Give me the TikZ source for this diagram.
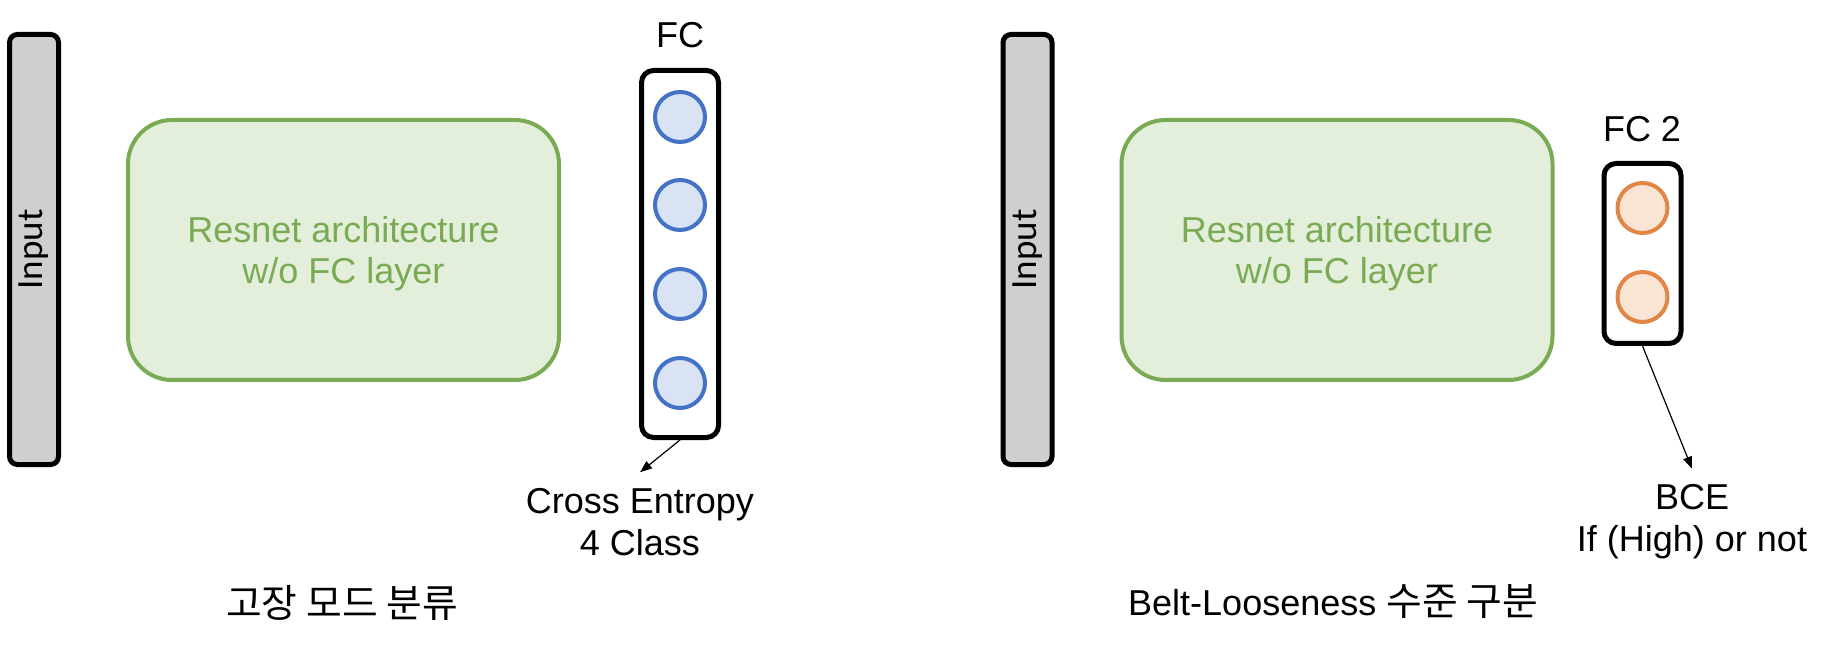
\documentclass[tikz,border=0pt]{standalone}
\usepackage{fontspec}
\setmainfont{Liberation Sans}
\newfontfamily\krfont{Noto Sans CJK KR}
\newfontfamily\inputfont{Carlito}
\usepackage{tikz}
\usetikzlibrary{arrows.meta}
\definecolor{inputgray}{RGB}{208,206,206}
\definecolor{resgreen}{RGB}{122,171,84}
\definecolor{resfill}{RGB}{227,239,218}
\definecolor{fcblue}{RGB}{68,114,196}
\definecolor{fcbluefill}{RGB}{218,227,243}
\definecolor{fcorange}{RGB}{226,134,72}
\definecolor{fcorangefill}{RGB}{250,228,212}

\begin{document}
\begin{tikzpicture}[x=0.5pt, y=-0.5pt,
    inbar/.style={draw, line width=2.5pt, fill=inputgray, rounded corners=4pt,
        minimum width=215pt, minimum height=24.5pt, inner sep=0pt, rotate=90,
        font=\inputfont\fontsize{18.5}{22}\selectfont},
    resbox/.style={draw=resgreen, fill=resfill, line width=2pt, rounded corners=22pt,
        minimum width=215.5pt, minimum height=130pt, align=center, text=resgreen,
        text depth=0pt, font=\fontsize{18}{20.5}\selectfont},
    fcbox/.style={draw, line width=2.5pt, rounded corners=6pt, minimum width=38.5pt},
    bluenode/.style={circle, draw=fcblue, fill=fcbluefill, line width=2pt,
        minimum size=25pt, inner sep=0pt},
    orangenode/.style={circle, draw=fcorange, fill=fcorangefill, line width=2pt,
        minimum size=25pt, inner sep=0pt},
    txt/.style={inner sep=0pt, font=\fontsize{18}{21}\selectfont},
    capnode/.style={txt, align=center, outer ysep=8pt},
    conn/.style={-{Triangle[length=6pt,width=4.5pt]}, line width=0.6pt}
]
    \useasboundingbox (0,0) rectangle (1830,646);

    % Left: fault mode classification
    \node[inbar] (inA) at (34,249.5) {Input};
    \node[resbox] (resA) at (343.5,250) {Resnet architecture\\w/o FC layer};
    \node[fcbox, minimum height=183.5pt] (fcA) at (680,254) {};
    \node[txt] (fcAlabel) at (680,35) {FC};
    \node[bluenode] (fcA1) at (680,117) {};
    \node[bluenode] (fcA2) at (680,205) {};
    \node[bluenode] (fcA3) at (680,294) {};
    \node[bluenode] (fcA4) at (680,383) {};
    \node[capnode] (ce) at (640,522) {Cross Entropy\\4 Class};
    \draw[conn] (fcA.south) -- (ce.north);
    \node[txt, font=\krfont\fontsize{19.4}{21}\selectfont] (capA) at (342,603) {고장 모드 분류};

    % Right: belt looseness level
    \node[inbar] (inB) at (1027.5,249.5) {Input};
    \node[resbox] (resB) at (1337,250) {Resnet architecture\\w/o FC layer};
    \node[fcbox, minimum height=90pt] (fcB) at (1642.5,253.5) {};
    \node[txt] (fcBlabel) at (1642,129) {FC 2};
    \node[orangenode] (fcB1) at (1642.5,208) {};
    \node[orangenode] (fcB2) at (1642.5,297) {};
    \node[capnode] (bce) at (1692,522) {BCE\\If (High) or not};
    \draw[conn] (fcB.south) -- (bce.north);
    \node[txt] (capB) at (1333,602) {Belt-Looseness {\krfont\fontsize{19.4}{21}\selectfont 수준 구분}};
\end{tikzpicture}
\end{document}
